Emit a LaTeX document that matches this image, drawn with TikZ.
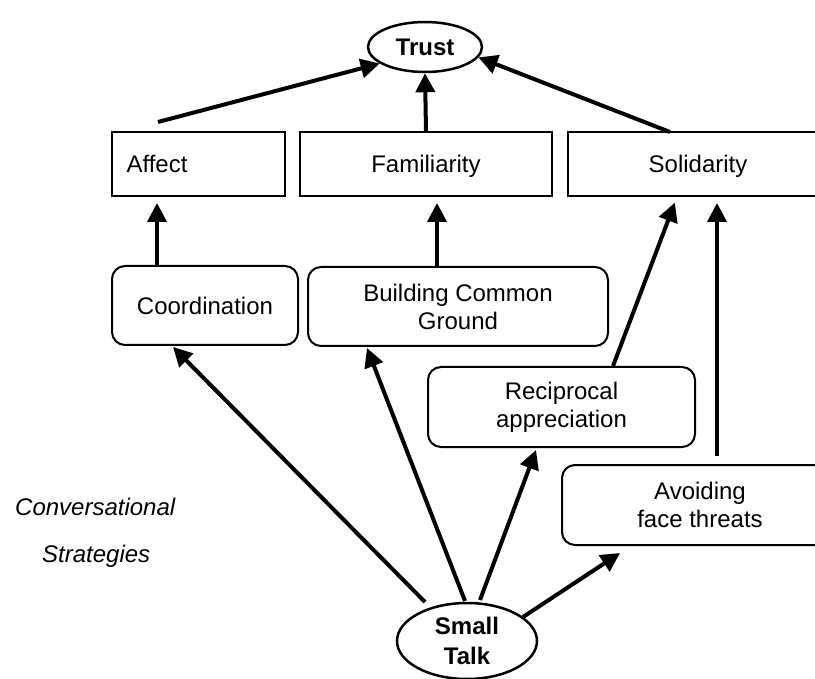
\documentclass[tikz,border=0pt]{standalone}
\usepackage{fontspec}
\setmainfont{Liberation Sans}
\usetikzlibrary{shapes.geometric,arrows.meta}
\begin{document}
\begin{tikzpicture}[x=1pt,y=-1pt,
  txt/.style={font=\fontsize{24}{28}\selectfont},
  box/.style={draw,line width=2pt,inner sep=0pt,minimum height=64pt,text height=20pt,text depth=2pt,txt},
  rbox/.style={draw,line width=2pt,rounded corners=13pt,inner sep=0pt,align=center,txt},
  ell/.style={draw,ellipse,line width=2.5pt,inner sep=0pt,align=center,font=\fontsize{24}{30}\selectfont\bfseries},
  arr/.style={line width=4pt,-{Triangle[length=19pt,width=19pt]}},
  ital/.style={font=\fontsize{24}{28}\selectfont\itshape,inner sep=0pt,anchor=base west}
]
\useasboundingbox (0,0) rectangle (815,679);
\begin{scope}
\clip (0,0) rectangle (815,679);
% top
\node[ell,minimum width=114pt,minimum height=50pt] (trust) at (425,47) {Trust};
% second row
\node[box,minimum width=173pt] (affect) at (198.5,164) {};
\node[txt,inner sep=0pt,text height=20pt,text depth=2pt] (affectlbl) at (157,164) {Affect};
\node[box,minimum width=252pt] (famil) at (426,164) {Familiarity};
\node[box,minimum width=260pt] (solid) at (698,164) {Solidarity};
% strategies
\node[rbox,minimum width=186pt,minimum height=79pt] (coord) at (205,305.5) {Coordination};
\node[rbox,minimum width=300pt,minimum height=79pt] (bcg) at (458,306.5) {Building Common\\Ground};
\node[rbox,minimum width=267pt,minimum height=80pt] (recip) at (561.5,407) {Reciprocal\\appreciation};
\node[rbox,minimum width=276pt,minimum height=80pt] (avoid) at (700,505) {Avoiding\\face threats};
% small talk
\node[ell,minimum width=140pt,minimum height=76pt] (small) at (467,641) {Small\\Talk};
\end{scope}
% side label
\node[ital] (conv) at (15,515) {Conversational};
\node[ital] (strat) at (42,562) {Strategies};
% helper coordinates
\coordinate (a1) at (158,122);
\coordinate (s1) at (670,132);
\coordinate (fx) at (437,0);
\coordinate (rx) at (613,0);
\coordinate (sx) at (677,0);
\coordinate (vx) at (717,0);
\coordinate (st1) at (425,602);
\coordinate (st2) at (465,601);
\coordinate (st3) at (480,600);
\coordinate (st4) at (523,617);
\coordinate (e1) at (173,347);
\coordinate (e2) at (367,348);
\coordinate (e3) at (536,450);
\coordinate (e4) at (620,553);
% arrows to trust
\draw[arr] (a1) -- (trust.200);
\draw[arr] (famil.north) -- (trust.south);
\draw[arr] (s1) -- (trust.349);
% arrows to second row
\draw[arr,shorten >=6pt] (coord.north -| affectlbl) -- (affect.south -| affectlbl);
\draw[arr,shorten >=6pt] (bcg.north -| fx) -- (famil.south -| fx);
\draw[arr,shorten >=6pt] (recip.north -| rx) -- (solid.south -| sx);
\draw[arr,shorten >=6pt,shorten <=8pt] (avoid.north -| vx) -- (solid.south -| vx);
% arrows from small talk
\draw[arr] (st1) -- (e1);
\draw[arr] (st2) -- (e2);
\draw[arr] (st3) -- (e3);
\draw[arr] (st4) -- (e4);
\end{tikzpicture}
\end{document}
